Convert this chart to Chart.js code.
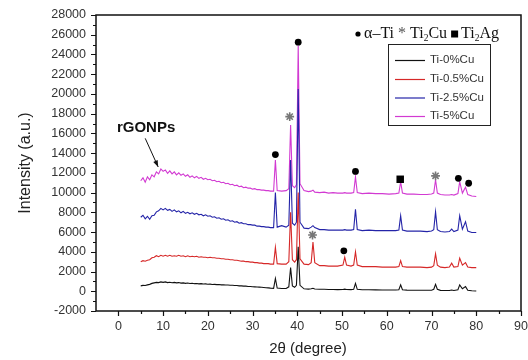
<!DOCTYPE html>
<html><head><meta charset="utf-8">
<script src="https://cdn.jsdelivr.net/npm/chart.js@4"></script>
<style>html,body{margin:0;padding:0;background:#fff}#wrap{width:528px;height:360px}</style>
</head><body><div id="wrap"><canvas id="c" width="528" height="360"></canvas></div>
<script>
// ---- data ----
const seriesLabels = ['Ti-0%Cu', 'Ti-0.5%Cu', 'Ti-2.5%Cu', 'Ti-5%Cu'];
const xTicks = [0, 10, 20, 30, 40, 50, 60, 70, 80, 90];
const yTicks = [-2000, 0, 2000, 4000, 6000, 8000, 10000, 12000, 14000, 16000, 18000, 20000, 22000, 24000, 26000, 28000];

const thetaLow = [5,5.5,6,6.5,7,7.5,8,8.5,9,9.5,
  10,10.5,11,11.5,12,12.5,13,13.5,14,14.5,
  15,15.5,16,16.5,17,17.5,18,18.5,19,19.5,
  20,20.5,21,21.5,22,22.5,23,23.5,24,24.5,
  25,25.5,26,26.5,27,27.5,28,28.5,29,29.5,
  30,30.5,31,31.5,32,32.5,33,33.5,34];
const thetaHigh = [34.7,35.1,35.5,36.5,37.5,38.1,38.5,38.9,39.4,39.8,
  40.2,40.6,41.5,42.5,43.1,43.5,43.9,45,46,47,
  48,49,50.2,50.6,51.0,52,52.6,53.0,53.4,54.5,
  56,57.5,59,60.5,62,62.7,63.1,63.5,64.5,66,
  67.5,69,70.0,70.5,70.9,71.3,72,73,74,74.5,
  75,75.9,76.3,76.9,77.6,78.1,79,80];

const ti0Low = [550,600,580,650,700,800,850,900,880,950,
  900,950,880,920,870,900,850,880,830,850,
  800,830,790,810,770,790,750,770,730,750,
  710,720,690,700,670,680,650,660,630,640,
  610,610,580,580,550,550,520,520,490,490,
  460,450,430,420,400,380,360,340,320];
const ti0High = [300,1300,320,280,280,450,2400,550,400,600,
  4500,600,250,220,250,300,230,200,200,180,
  180,170,180,220,180,170,200,800,200,150,
  150,140,130,130,130,150,650,150,120,110,
  100,100,110,200,700,200,90,80,80,130,
  80,150,650,250,470,100,50,30];

const ti05Low = [3000,3100,3050,3150,3200,3400,3450,3600,3500,3650,
  3550,3650,3550,3650,3550,3600,3550,3650,3550,3600,
  3500,3600,3500,3550,3500,3550,3450,3500,3450,3450,
  3400,3450,3400,3400,3350,3350,3300,3300,3250,3250,
  3200,3200,3150,3150,3100,3050,3050,3000,3000,2950,
  2950,2900,2900,2850,2850,2800,2800,2800,2750];
const ti05High = [2750,4450,2800,2750,2750,3000,8000,3200,2950,3200,
  10000,3300,2750,2700,2900,5000,2900,2600,2600,2550,
  2550,2550,2650,3450,2650,2550,2650,4000,2650,2500,
  2500,2500,2450,2450,2450,2500,3100,2500,2450,2450,
  2450,2400,2450,2600,3800,2650,2450,2400,2450,2850,
  2450,2500,3350,2650,2900,2450,2400,2400];

const ti25Low = [7500,7700,7350,7600,7300,7650,7700,8050,8150,8400,
  8250,8400,8200,8300,8100,8250,8050,8150,7950,8100,
  7900,8000,7850,7950,7800,7900,7750,7800,7650,7750,
  7600,7650,7500,7550,7400,7450,7300,7350,7200,7250,
  7100,7150,7000,7050,6900,6950,6850,6850,6750,6750,
  6700,6700,6600,6600,6550,6550,6500,6500,6450];
const ti25High = [6450,10000,6500,6650,6500,6700,13300,6900,6700,7000,
  20500,7000,6400,6350,6500,6650,6450,6250,6250,6200,
  6200,6200,6200,6250,6200,6200,6250,8300,6250,6150,
  6200,6150,6150,6150,6150,6200,7650,6200,6100,6100,
  6100,6050,6100,6250,8050,6250,6050,6000,6050,6300,
  6050,6200,7650,6300,7050,6100,5950,5950];

const ti5Low = [11200,11500,11050,11600,11300,11800,11600,12100,11900,12400,
  12150,12300,11950,12200,11900,12100,11800,12000,11750,11900,
  11650,11800,11550,11700,11500,11650,11450,11550,11350,11450,
  11300,11350,11200,11250,11100,11150,11000,11050,10900,10950,
  10800,10850,10700,10750,10600,10650,10500,10550,10450,10450,
  10350,10400,10300,10300,10250,10250,10200,10200,10150];
const ti5High = [10150,13300,10200,10150,10200,10400,16850,10700,10500,10800,
  24900,10900,10200,10100,10150,10250,10050,10000,10050,9950,
  10000,9950,9950,10000,9950,9950,10000,11600,10000,9900,
  9950,9900,9900,9850,9900,9950,11100,9950,9850,9850,
  9800,9800,9850,9950,11300,9950,9800,9750,9750,9800,
  9750,9900,11100,9950,10550,9800,9650,9600];

// phase markers
const alphaTiX = [35.1, 40.2, 53.0, 76.0, 78.3, 50.4];
const alphaTiY = [13850, 25250, 12150, 11450, 10950, 4100];
const ti2CuX = [38.3, 43.4, 70.9];
const ti2CuY = [17700, 5700, 11700];
const ti2AgX = [63.0];
const ti2AgY = [11350];
// rGONPs annotation: label point, arrow start, arrow end (data units)
const rgoLabel = [6.2, 16550];
const rgoArrow = [[6.0, 15500], [8.9, 12600]];

// ---- build ----
const theta = thetaLow.concat(thetaHigh);
const pts = (xs, ys) => xs.map((x, i) => ({x: x, y: ys[i]}));
const lineColors = ['#111111', '#d62828', '#2424a8', '#d23ad2'];
const seriesY = [ti0Low.concat(ti0High), ti05Low.concat(ti05High), ti25Low.concat(ti25High), ti5Low.concat(ti5High)];

const datasets = [];
datasets.push({type:'scatter', label:'a-Ti', data: pts(alphaTiX, alphaTiY), pointStyle:'circle', pointRadius:3.4, backgroundColor:'#000', borderColor:'#000', borderWidth:0, order:0});
datasets.push({type:'scatter', label:'Ti2Cu', data: pts(ti2CuX, ti2CuY), pointStyle:'star', pointRadius:4.4, backgroundColor:'#777', borderColor:'#777', borderWidth:1.6, order:0});
datasets.push({type:'scatter', label:'Ti2Ag', data: pts(ti2AgX, ti2AgY), pointStyle:'rect', pointRadius:5.3, backgroundColor:'#000', borderColor:'#000', borderWidth:0, order:0});
for (let i = 3; i >= 0; i--) {
  datasets.push({type:'line', label: seriesLabels[i], data: pts(theta, seriesY[i]), borderColor: lineColors[i], borderWidth: 1.1, pointRadius: 0, tension: 0, fill: false, order: 1 + i, isSeries: true});
}

const FONT = '"Liberation Sans", Arial, sans-serif';

const deco = {
  id: 'deco',
  afterDatasetsDraw(chart) {
    const ctx = chart.ctx, a = chart.chartArea, xs = chart.scales.x, ys = chart.scales.y;
    ctx.save();
    // frame
    ctx.strokeStyle = '#111'; ctx.lineWidth = 1.5;
    ctx.strokeRect(a.left, a.top, a.right - a.left, a.bottom - a.top);
    // ticks
    ctx.lineWidth = 1.2;
    ctx.beginPath();
    yTicks.forEach(v => {
      const p = Math.round(ys.getPixelForValue(v)) + 0.5;
      ctx.moveTo(a.left, p); ctx.lineTo(a.left - 5, p);
      if (v + 1000 < ys.max) { const qq = Math.round(ys.getPixelForValue(v + 1000)) + 0.5; ctx.moveTo(a.left, qq); ctx.lineTo(a.left - 3, qq); }
    });
    xTicks.forEach(v => {
      const p = Math.round(xs.getPixelForValue(v)) + 0.5;
      ctx.moveTo(p, a.bottom); ctx.lineTo(p, a.bottom + 5);
      if (v - 5 > xs.min) { const q = Math.round(xs.getPixelForValue(v - 5)) + 0.5; ctx.moveTo(q, a.bottom); ctx.lineTo(q, a.bottom + 3); }
    });
    ctx.stroke();

    // axis titles
    ctx.fillStyle = '#222';
    ctx.font = '16px ' + FONT;
    ctx.textAlign = 'center'; ctx.textBaseline = 'middle';
    ctx.save(); ctx.translate(26, 163); ctx.rotate(-Math.PI / 2); ctx.fillText('Intensity (a.u.)', 0, 0); ctx.restore();
    ctx.font = '15px ' + FONT;
    ctx.fillText('2\u03b8 (degree)', 308, 349);

    // rGONPs label and arrow
    ctx.font = 'bold 15px ' + FONT;
    ctx.fillStyle = '#111';
    ctx.fillText('rGONPs', xs.getPixelForValue(rgoLabel[0]), ys.getPixelForValue(rgoLabel[1]));
    const x1 = xs.getPixelForValue(rgoArrow[0][0]), y1 = ys.getPixelForValue(rgoArrow[0][1]);
    const x2 = xs.getPixelForValue(rgoArrow[1][0]), y2 = ys.getPixelForValue(rgoArrow[1][1]);
    ctx.strokeStyle = '#111'; ctx.lineWidth = 1;
    ctx.beginPath(); ctx.moveTo(x1, y1); ctx.lineTo(x2, y2); ctx.stroke();
    const ang = Math.atan2(y2 - y1, x2 - x1), L = 7;
    ctx.beginPath();
    ctx.moveTo(x2, y2);
    ctx.lineTo(x2 - L * Math.cos(ang - 0.35), y2 - L * Math.sin(ang - 0.35));
    ctx.lineTo(x2 - L * Math.cos(ang + 0.35), y2 - L * Math.sin(ang + 0.35));
    ctx.closePath(); ctx.fill();

    // phase header
    const serif = '"Liberation Serif", "Times New Roman", serif';
    let hx = 355; const hy = 34;
    ctx.textAlign = 'left'; ctx.textBaseline = 'middle';
    const put = (t, f, col, dy) => { ctx.font = f; ctx.fillStyle = col; ctx.fillText(t, hx, hy + (dy || 0)); hx += ctx.measureText(t).width; };
    ctx.fillStyle = '#000';
    ctx.beginPath(); ctx.arc(hx + 3, hy, 2.6, 0, Math.PI * 2); ctx.fill(); hx += 9;
    put('\u03b1\u2013Ti ', '16px ' + serif, '#111');
    put('* ', '16px ' + serif, '#555');
    put('Ti', '16px ' + serif, '#111');
    put('2', '9.5px ' + serif, '#111', 4);
    put('Cu ', '16px ' + serif, '#111');
    ctx.fillStyle = '#000'; ctx.fillRect(hx, hy - 3.5, 7, 7); hx += 10;
    put('Ti', '16px ' + serif, '#111');
    put('2', '9.5px ' + serif, '#111', 4);
    put('Ag', '16px ' + serif, '#111');

    // legend box
    ctx.strokeStyle = '#222'; ctx.lineWidth = 1;
    ctx.strokeRect(388.5, 44.5, 102, 81);
    const rows = [60, 79, 97.5, 116];
    ctx.font = '11.5px ' + FONT; ctx.textBaseline = 'middle';
    chart.data.datasets.filter(d => d.isSeries).sort((p, q) => seriesLabels.indexOf(p.label) - seriesLabels.indexOf(q.label)).forEach((d, i) => {
      ctx.strokeStyle = d.borderColor; ctx.lineWidth = 1.2;
      ctx.beginPath(); ctx.moveTo(395, rows[i] + 0.5); ctx.lineTo(425, rows[i] + 0.5); ctx.stroke();
      ctx.fillStyle = '#333'; ctx.fillText(d.label, 430, rows[i]);
    });
    ctx.restore();
  }
};

new Chart(document.getElementById('c'), {
  data: { datasets: datasets },
  options: {
    responsive: false, animation: false, devicePixelRatio: 1,
    layout: { padding: { left: 0, top: 15, right: 7, bottom: 0 } },
    plugins: { legend: { display: false }, tooltip: { enabled: false } },
    scales: {
      x: {
        type: 'linear', min: -5, max: 90,
        afterBuildTicks: s => { s.ticks = xTicks.map(v => ({value: v})); },
        afterFit: s => { s.height = 49; s.paddingLeft = 0; s.paddingRight = 0; },
        grid: { display: false, drawTicks: false },
        border: { display: false },
        ticks: { padding: 8, color: '#333', font: { family: FONT, size: 12.5 }, maxRotation: 0, autoSkip: false, callback: v => String(v) }
      },
      y: {
        type: 'linear', min: -2000, max: 28000,
        afterBuildTicks: s => { s.ticks = yTicks.map(v => ({value: v})); },
        afterFit: s => { s.width = 96; s.paddingTop = 0; s.paddingBottom = 0; },
        grid: { display: false, drawTicks: false },
        border: { display: false },
        ticks: { padding: 10, color: '#333', font: { family: FONT, size: 12.5 }, autoSkip: false, callback: v => String(v) }
      }
    }
  },
  plugins: [deco]
});
</script></body></html>
